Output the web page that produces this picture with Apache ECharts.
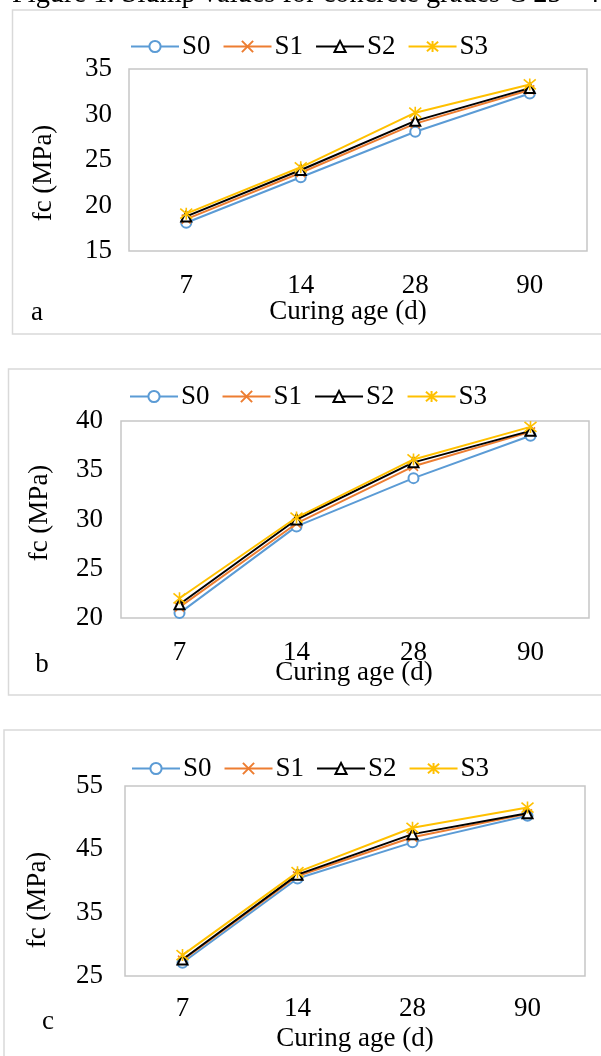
<!DOCTYPE html>
<html>
<head>
<meta charset="utf-8">
<script src="https://cdn.jsdelivr.net/npm/echarts@6/dist/echarts.min.js"></script>
<style>html,body{margin:0;padding:0;background:#fff;}#c{width:601px;height:1056px;}</style>
</head>
<body>
<div id="c"></div>
<script>
// ---- data ----
const categories = ['7', '14', '28', '90'];
const seriesNames = ['S0', 'S1', 'S2', 'S3'];
// panel a
const a_S0 = [18.1, 23.1, 28.1, 32.3];
const a_S1 = [18.5, 23.6, 29.0, 32.7];
const a_S2 = [18.8, 23.9, 29.3, 32.9];
const a_S3 = [19.1, 24.2, 30.2, 33.3];
// panel b
const b_S0 = [20.5, 29.3, 34.2, 38.5];
const b_S1 = [21.1, 29.6, 35.4, 38.9];
const b_S2 = [21.4, 30.0, 35.8, 39.0];
const b_S3 = [22.0, 30.2, 36.1, 39.4];
// panel c
const c_S0 = [27.1, 40.4, 46.1, 50.3];
const c_S1 = [27.5, 40.8, 46.9, 50.6];
const c_S2 = [27.6, 41.0, 47.4, 50.7];
const c_S3 = [28.3, 41.4, 48.4, 51.6];
// axis ranges / ticks
const yRanges = [[15, 35, 5], [20, 40, 5], [25, 55, 10]];
const xTitle = 'Curing age (d)';
const yTitle = 'fc (MPa)';
const panelLetters = ['a', 'b', 'c'];
const caption = 'Figure 1. Slump values for concrete grades C 25 - 40';

const FONT = '"Liberation Serif", "Times New Roman", serif';
const FS = 27;
const colors = ['#5B9BD5', '#ED7D31', '#000000', '#FFC000'];
const symbols = ['emptyCircle', 'path://M0,0L10,10M10,0L0,10', 'emptyTriangle', 'path://M0,0L10,10M10,0L0,10M5,-1L5,11'];
const symSizes = [10, 9, 10, 12];

const panelData = [[a_S0, a_S1, a_S2, a_S3], [b_S0, b_S1, b_S2, b_S3], [c_S0, c_S1, c_S2, c_S3]];

// layout
const grids = [
  {left: 129, right: 14, top: 69, height: 182},
  {left: 121, right: 12, top: 421, height: 197},
  {left: 125, right: 16, top: 786, height: 190}
];
const yLabelMargin = [17, 18, 22];
const xLabelMargin = [21, 21, 19];
const legendTops = [33, 383, 755];
const legendLefts = [130, 129, 131];
const xTitlePos = [[348, 312], [354, 673], [355, 1039]];
const yTitlePos = [[44, 173], [40, 513], [38, 900]];
const letterPos = [[37, 313], [42, 665], [48, 1022]];
const frames = [[12.5, 10, 620, 324], [8.5, 369, 620, 326], [4, 730, 620, 360]];

const option = {
  animation: false,
  backgroundColor: '#fff',
  textStyle: {fontFamily: FONT},
  grid: grids.map(g => Object.assign({show: true, borderColor: '#c6c6c6', borderWidth: 1.5, backgroundColor: 'transparent'}, g)),
  legend: legendTops.map((t, i) => ({
    top: t, left: legendLefts[i], padding: 0, itemWidth: 48, itemHeight: 14, itemGap: 12,
    data: seriesNames,
    textStyle: {fontFamily: FONT, fontSize: FS, color: '#000', padding: [0, 0, 0, -2]},
    selectedMode: false
  })),
  xAxis: grids.map((g, i) => ({
    type: 'category', gridIndex: i, data: categories, boundaryGap: true,
    axisLine: {show: false}, axisTick: {show: false}, splitLine: {show: false},
    axisLabel: {fontFamily: FONT, fontSize: FS, color: '#000', margin: xLabelMargin[i]}
  })),
  yAxis: yRanges.map((r, i) => ({
    type: 'value', gridIndex: i, min: r[0], max: r[1], interval: r[2],
    axisLine: {show: false}, axisTick: {show: false}, splitLine: {show: false},
    axisLabel: {fontFamily: FONT, fontSize: FS, color: '#000', margin: yLabelMargin[i]}
  })),
  series: [],
  graphic: []
};

panelData.forEach((pd, p) => {
  pd.forEach((vals, s) => {
    option.series.push({
      type: 'line', name: seriesNames[s], xAxisIndex: p, yAxisIndex: p, data: vals,
      symbol: symbols[s], symbolSize: symSizes[s], showSymbol: true,
      lineStyle: {color: colors[s], width: 2},
      itemStyle: {color: colors[s], borderColor: colors[s], borderWidth: 1.6},
      z: 2 + s
    });
  });
});

// caption (cut at top) and frames
option.graphic.push({type: 'text', left: 12, top: -19, style: {text: caption, font: '28.4px ' + FONT, fill: '#000'}, z: 10});
frames.forEach(f => option.graphic.push({type: 'rect', shape: {x: f[0], y: f[1], width: f[2], height: f[3]}, style: {fill: 'none', stroke: '#d9d9d9', lineWidth: 1.5}, silent: true, z: 0}));
xTitlePos.forEach(pos => option.graphic.push({type: 'text', x: pos[0], y: pos[1], style: {text: xTitle, font: FS + 'px ' + FONT, fill: '#000', align: 'center', verticalAlign: 'middle'}}));
yTitlePos.forEach(pos => option.graphic.push({type: 'text', x: pos[0], y: pos[1], rotation: Math.PI / 2, style: {text: yTitle, font: FS + 'px ' + FONT, fill: '#000', align: 'center', verticalAlign: 'middle'}}));
letterPos.forEach((pos, i) => option.graphic.push({type: 'text', x: pos[0], y: pos[1], style: {text: panelLetters[i], font: FS + 'px ' + FONT, fill: '#000', align: 'center', verticalAlign: 'middle'}}));

const chart = echarts.init(document.getElementById('c'), null, {renderer: 'canvas'});
chart.setOption(option);
</script>
</body>
</html>
